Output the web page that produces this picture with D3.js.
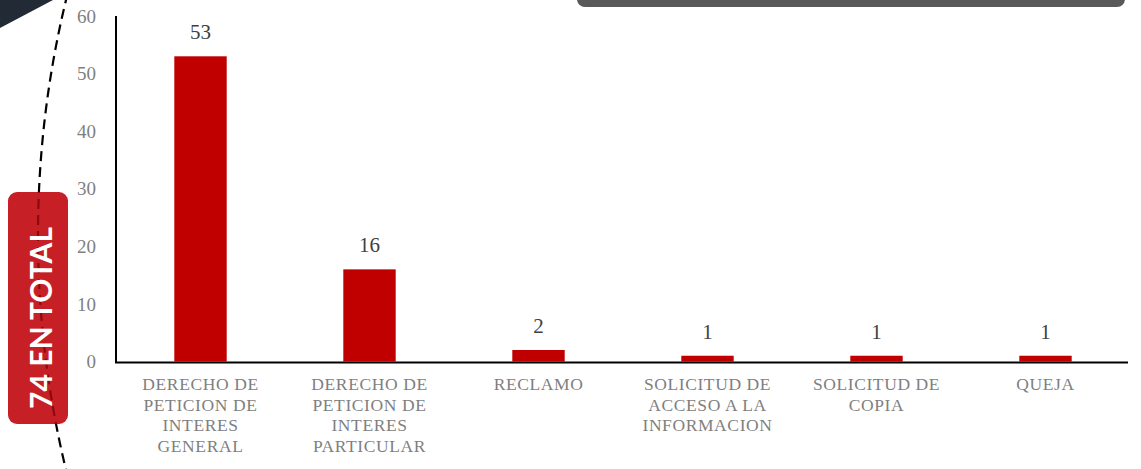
<!DOCTYPE html>
<html lang="es">
<head>
<meta charset="utf-8">
<title>Peticiones por tipo</title>
<script src="https://d3js.org/d3.v7.min.js"></script>
<style>
  body { margin: 0; background: #fff; }
  .tick-label { font-family: "Liberation Serif", serif; font-size: 19px; fill: #7f7f7f; }
  .cat-label { font-family: "Liberation Serif", serif; font-size: 17.5px; letter-spacing: 0.6px; fill: #7f7f7f; }
  .val-label { font-family: "Liberation Serif", serif; font-size: 21px; fill: #404040; }
  .badge { font-family: Lato, "Open Sans", sans-serif; font-size: 30px; font-weight: bold; fill: #fff; }
</style>
</head>
<body>
<div id="vis"></div>
<script>
// data
const categories = [
  ["DERECHO DE", "PETICION DE", "INTERES", "GENERAL"],
  ["DERECHO DE", "PETICION DE", "INTERES", "PARTICULAR"],
  ["RECLAMO"],
  ["SOLICITUD DE", "ACCESO A LA", "INFORMACION"],
  ["SOLICITUD DE", "COPIA"],
  ["QUEJA"]
];
const values = [53, 16, 2, 1, 1, 1];
const yTicks = [0, 10, 20, 30, 40, 50, 60];
const totalText = "74 EN TOTAL";

const width = 1141, height = 469;
const x0 = 116, x1 = 1130, yBase = 361.5, yTop = 16;

const svg = d3.select("#vis").append("svg")
  .attr("width", width).attr("height", height);

// decoration: dark corner triangle
svg.append("path")
  .attr("d", "M0,0 L53,0 L0,28 Z")
  .attr("fill", "#222a35");

// grey rounded box at top right
svg.append("rect")
  .attr("x", 577).attr("y", -20).attr("width", 548).attr("height", 27)
  .attr("rx", 8).attr("fill", "#595959");

// dashed arc
const R = 1000, cx = 1038, cy = 235;
const arcPts = d3.range(-0.26, 0.2601, 0.005).map(a => [cx - R * Math.cos(a), cy + R * Math.sin(a)]);
const arcPath = d3.line()(arcPts);
svg.append("path")
  .attr("d", arcPath)
  .attr("fill", "none")
  .attr("stroke", "#000")
  .attr("stroke-width", 2.2)
  .attr("stroke-dasharray", "10,6");

// badge
svg.append("clipPath").attr("id", "badgeClip")
  .append("rect")
  .attr("x", 8).attr("y", 192).attr("width", 60).attr("height", 232).attr("rx", 9);
svg.append("rect")
  .attr("x", 8).attr("y", 192).attr("width", 60).attr("height", 232)
  .attr("rx", 9).attr("fill", "#c62026");
svg.append("path")
  .attr("d", arcPath)
  .attr("clip-path", "url(#badgeClip)")
  .attr("fill", "none")
  .attr("stroke", "#8a0a10")
  .attr("stroke-width", 2.2)
  .attr("stroke-dasharray", "10,6");
svg.append("text")
  .attr("class", "badge")
  .attr("transform", "translate(52,318) rotate(-90)")
  .attr("text-anchor", "middle")
  .text(totalText);

// scales
const xScale = d3.scaleBand()
  .domain(d3.range(values.length))
  .range([x0, x1])
  .paddingInner(0.69)
  .paddingOuter(0.345);

const yScale = d3.scaleLinear()
  .domain([0, 60])
  .range([yBase, yTop]);

// y tick labels
svg.selectAll(".tick-label")
  .data(yTicks)
  .enter().append("text")
  .attr("class", "tick-label")
  .attr("x", 96)
  .attr("y", d => yScale(d))
  .attr("dy", "0.35em")
  .attr("text-anchor", "end")
  .text(d => d);

// bars
svg.selectAll(".bar")
  .data(values)
  .enter().append("rect")
  .attr("class", "bar")
  .attr("x", (d, i) => xScale(i))
  .attr("y", d => yScale(d))
  .attr("width", xScale.bandwidth())
  .attr("height", d => yBase - yScale(d))
  .attr("fill", "#c00000");

// value labels
svg.selectAll(".val-label")
  .data(values)
  .enter().append("text")
  .attr("class", "val-label")
  .attr("x", (d, i) => xScale(i) + xScale.bandwidth() / 2)
  .attr("y", d => yScale(d) - 17)
  .attr("text-anchor", "middle")
  .text(d => d);

// axes lines
svg.append("line")
  .attr("x1", x0).attr("x2", x0)
  .attr("y1", yTop).attr("y2", yBase + 1)
  .attr("stroke", "#000").attr("stroke-width", 2);
svg.append("line")
  .attr("x1", x0 - 1).attr("x2", 1128)
  .attr("y1", yBase + 1).attr("y2", yBase + 1)
  .attr("stroke", "#000").attr("stroke-width", 2);

// category labels
const catG = svg.selectAll(".cat")
  .data(categories)
  .enter().append("text")
  .attr("class", "cat-label")
  .attr("text-anchor", "middle")
  .attr("transform", (d, i) => "translate(" + (xScale(i) + xScale.bandwidth() / 2) + ",390)");
catG.selectAll("tspan")
  .data(d => d)
  .enter().append("tspan")
  .attr("x", 0)
  .attr("y", (d, i) => i * 20.6)
  .text(d => d);
</script>
</body>
</html>
